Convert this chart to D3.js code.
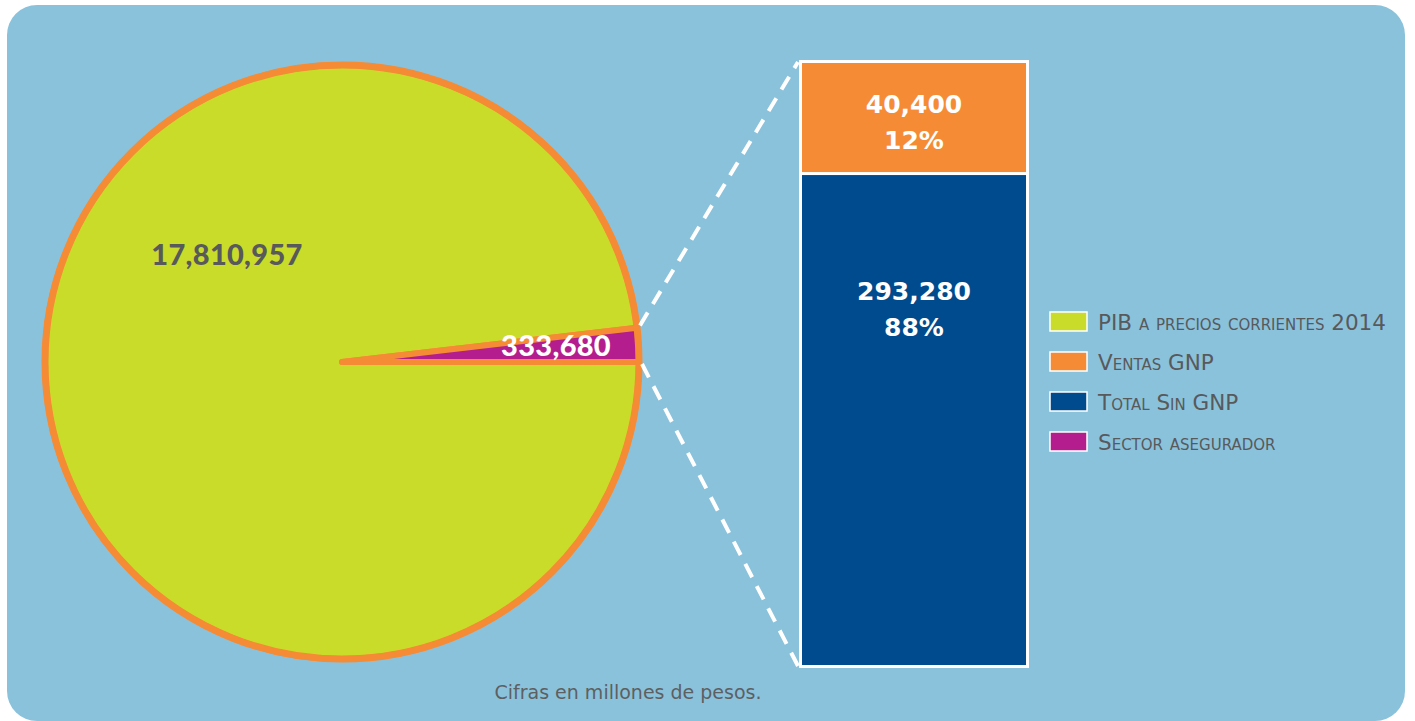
<!DOCTYPE html>
<html><head><meta charset="utf-8">
<script src="https://cdn.jsdelivr.net/npm/d3@7"></script>
<style>
html,body{margin:0;padding:0;background:#fff;}
svg{display:block;}
</style></head>
<body>
<svg id="c" width="1415" height="721"></svg>
<script>
// ---- data ----
const pieCategories = ["PIB a precios corrientes 2014", "Sector asegurador"];
const pieValues = [17810957, 333680];
const pieLabels = ["17,810,957", "333,680"];
const barCategories = ["Ventas GNP", "Total Sin GNP"];
const barValues = [40400, 293280];
const barPercents = ["12%", "88%"];
const barLabels = ["40,400", "293,280"];
const legendItems = ["PIB a precios corrientes 2014", "Ventas GNP", "Total Sin GNP", "Sector asegurador"];
const footnote = "Cifras en millones de pesos.";

const colors = {
  "PIB a precios corrientes 2014": "#c9dc2a",
  "Ventas GNP": "#f68b35",
  "Total Sin GNP": "#004b8d",
  "Sector asegurador": "#b31d8e"
};
const bg = "#8ac2dc", gray = "#58595b", orange = "#f68b35";

const svg = d3.select("#c");
svg.append("rect").attr("x", 7).attr("y", 5).attr("width", 1398).attr("height", 716)
  .attr("rx", 30).attr("ry", 30).attr("fill", bg);

// ---- pie ----
const cx = 342, cy = 362, R = 297;
const pie = d3.pie().sort(null).startAngle(Math.PI / 2).endAngle(Math.PI / 2 + 2 * Math.PI);
const arcs = pie(pieValues);
const arc = d3.arc().innerRadius(0).outerRadius(R);
const pg = svg.append("g").attr("transform", `translate(${cx},${cy})`);
pg.selectAll("path").data(arcs).join("path")
  .attr("d", arc)
  .attr("fill", (d, i) => colors[pieCategories[i]])
  .attr("stroke", orange).attr("stroke-width", 6).attr("stroke-linejoin", "round");
pg.append("circle").attr("r", R).attr("fill", "none").attr("stroke", orange).attr("stroke-width", 7);

pg.append("text").attr("x", -115).attr("y", -97).attr("text-anchor", "middle")
  .attr("font-family", "Lato").attr("font-weight", 900).attr("font-size", 29)
  .attr("letter-spacing", 0.3)
  .attr("fill", gray).text(pieLabels[0]);
pg.append("text").attr("x", R - 28).attr("y", -6).attr("text-anchor", "end")
  .attr("font-family", "Lato").attr("font-weight", 900).attr("font-size", 29)
  .attr("letter-spacing", 0.3)
  .attr("fill", "#fff").text(pieLabels[1]);

// ---- bar ----
const bx0 = 801, bx1 = 1027, by0 = 62, by1 = 666;
const total = d3.sum(barValues);
const y = d3.scalePow().exponent(0.8).domain([0, total]).range([by0, by1]);
let acc = 0;
const segs = barValues.map((v, i) => { const s = { i, v, a: acc, b: acc + v }; acc += v; return s; });
const bgp = svg.append("g");
bgp.append("rect").attr("x", bx0 - 2).attr("y", by0 - 2).attr("width", bx1 - bx0 + 4).attr("height", by1 - by0 + 4).attr("fill", "#fff");
bgp.selectAll("rect.seg").data(segs).join("rect").attr("class", "seg")
  .attr("x", bx0 + 1).attr("width", bx1 - bx0 - 2)
  .attr("y", d => y(d.a) + (d.i ? 1.5 : 1))
  .attr("height", d => y(d.b) - y(d.a) - 2.5)
  .attr("fill", d => colors[barCategories[d.i]]);

const bxm = (bx0 + bx1) / 2;
segs.forEach(d => {
  const yc = d.i === 0 ? (y(d.a) + y(d.b)) / 2 + 3 : y(d.a) + 134;
  const t = bgp.append("text").attr("text-anchor", "middle")
    .attr("font-family", "DejaVu Sans").attr("font-weight", "bold").attr("font-size", 25)
    .attr("fill", "#fff");
  t.append("tspan").attr("x", bxm).attr("y", yc - 8).text(barLabels[d.i]);
  t.append("tspan").attr("x", bxm).attr("y", yc + 28).text(barPercents[d.i]);
});

// ---- connector lines ----
const aS = arcs[1];
const px1 = cx + (R + 3) * Math.sin(aS.startAngle), py1 = cy - (R + 3) * Math.cos(aS.startAngle);
const px2 = cx + (R + 3) * Math.sin(aS.endAngle), py2 = cy - (R + 3) * Math.cos(aS.endAngle);
svg.append("line").attr("x1", px1).attr("y1", py1 - 2).attr("x2", bx0 - 3).attr("y2", by0)
  .attr("stroke", "#fff").attr("stroke-width", 4).attr("stroke-dasharray", "15 10");
svg.append("line").attr("x1", px2).attr("y1", py2 + 2).attr("x2", bx0 - 3).attr("y2", by1)
  .attr("stroke", "#fff").attr("stroke-width", 4).attr("stroke-dasharray", "15 10");

// ---- legend ----
const lg = svg.append("g").attr("transform", "translate(1050,312)");
legendItems.forEach((name, i) => {
  const g = lg.append("g").attr("transform", `translate(0,${i * 40})`);
  g.append("rect").attr("x", 0).attr("y", 0).attr("width", 37).attr("height", 19)
    .attr("fill", colors[name]).attr("stroke", "#fff").attr("stroke-width", 1.5);
  g.append("text").attr("x", 48).attr("y", 18)
    .attr("font-family", "DejaVu Sans").attr("font-size", 21.5)
    .style("font-variant", "small-caps")
    .attr("fill", gray).text(name);
});

// ---- footnote ----
svg.append("text").attr("x", 628).attr("y", 699).attr("text-anchor", "middle")
  .attr("font-family", "DejaVu Sans").attr("font-size", 19)
  .attr("fill", "#5e5f61").text(footnote);
</script>
</body></html>
